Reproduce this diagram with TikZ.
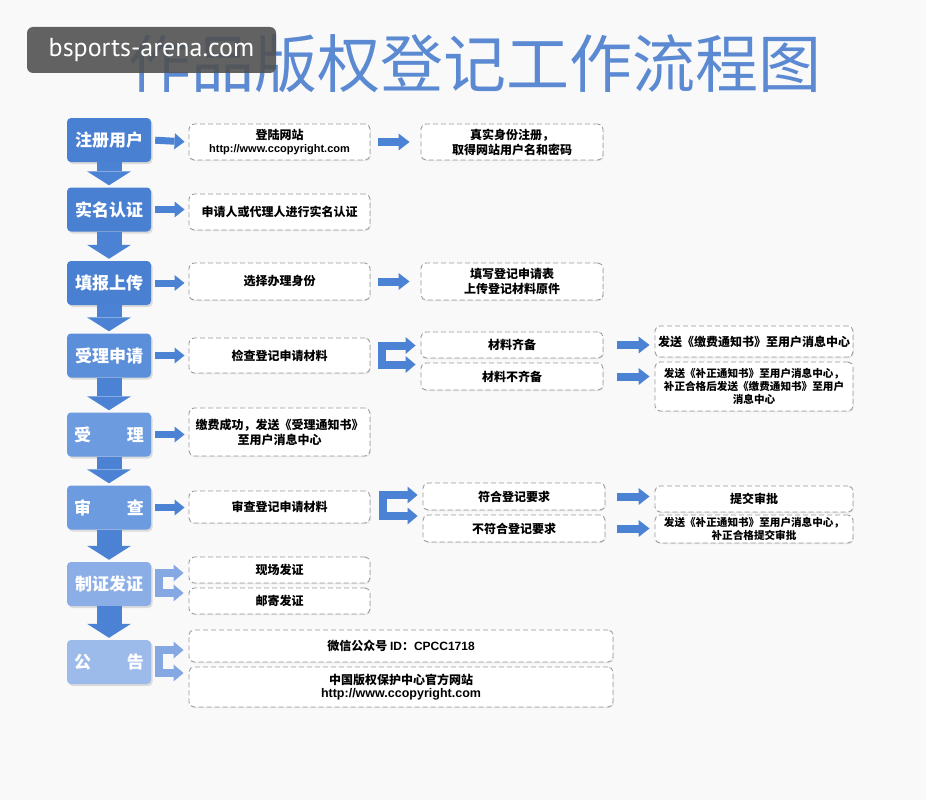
\documentclass[tikz,border=0pt]{standalone}
\usepackage{fontspec}
\setmainfont{Noto Sans CJK SC}
\newfontfamily\latinb{Liberation Sans}
\newfontfamily\wmfont{PT Sans}
\usetikzlibrary{arrows.meta,shadows,calc}
\definecolor{bg}{HTML}{F9F9F9}
\definecolor{titleblue}{HTML}{5C8AD2}
\definecolor{arrowblue}{HTML}{4C82D4}
\definecolor{arrowlight}{HTML}{86A8E2}
\definecolor{dashgray}{HTML}{9A9A9A}
\definecolor{lb1}{HTML}{4A80D2}
\definecolor{lb2}{HTML}{5B8FDA}
\definecolor{lb3}{HTML}{6C9BE0}
\definecolor{lb4}{HTML}{8CAEE6}
\definecolor{lb5}{HTML}{9DBBEA}
\tikzset{
  lbox/.style={fill=#1, rounded corners=4pt, minimum width=84pt, minimum height=44pt, inner sep=0pt,
    text=white, font=\bfseries\fontsize{17}{17}\selectfont,
    drop shadow={shadow xshift=1.5pt, shadow yshift=-2pt, fill=black!22, opacity=0.6}},
  dbox/.style={draw=dashgray, dash pattern=on 5pt off 3pt, line width=0.9pt, fill=white,
    rounded corners=5pt, inner sep=2pt, align=center, font=\bfseries\fontsize{12}{15}\selectfont,
    drop shadow={shadow xshift=0.8pt, shadow yshift=-1.2pt, fill=black!12, opacity=0.7}},
  downar/.style={draw=arrowblue, line width=25pt, -{Triangle[width=44pt,length=14pt,line width=0pt]}, shorten >=2pt},
  rar/.style={draw=#1, line width=7pt, -{Triangle[width=16pt,length=10pt,line width=0pt]}, shorten <=4pt, shorten >=4pt},
  rar/.default=arrowblue,
  mar/.style={draw=arrowblue, line width=8pt, -{Triangle[width=17pt,length=11pt,line width=0pt]}},
  splitar/.style={draw=#1, line width=8pt, line join=miter,
    {Triangle[width=17pt,length=10pt,line width=0pt]}-{Triangle[width=17pt,length=10pt,line width=0pt]}},
  splitar/.default=arrowblue
}
\newcommand\splitarrow[6]{%
  \draw[splitar=#6] ($(#2.west |- #1.east)+(-5,-#4)$) -- ($(#1.east)+(#3,-#4)$)
     -- ($(#1.east)+(#3,#5)$) -- ($(#2.west |- #1.east)+(-5,#5)$);}
\begin{document}
\begin{tikzpicture}[x=1pt,y=-1pt]
\fill[bg] (0,0) rectangle (926,800);
\useasboundingbox (0,0) rectangle (926,800);

% title
\node (title) [text=titleblue, font=\fontsize{63}{63}\selectfont, inner sep=0pt] at (475,64) {作品版权登记工作流程图};

% left column
\node (u1) [lbox=lb1] at (109,140) {注册用户};
\node (u2) [lbox=lb1] at (109,209.5) {实名认证};
\node (u3) [lbox=lb1] at (109,283) {填报上传};
\node (u4) [lbox=lb2] at (109,355.5) {受理申请};
\node (u5) [lbox=lb3] at (109,434.5) {受\hspace{2.1em}理};
\node (u6) [lbox=lb3] at (109,507.5) {审\hspace{2.1em}查};
\node (u7) [lbox=lb4] at (109,584) {制证发证};
\node (u8) [lbox=lb5] at (109,662) {公\hspace{2.1em}告};

% down arrows
\draw[downar] (u1.south) -- (u2.north);
\draw[downar] (u2.south) -- (u3.north);
\draw[downar] (u3.south) -- (u4.north);
\draw[downar] (u4.south) -- (u5.north);
\draw[downar] (u5.south) -- (u6.north);
\draw[downar] (u6.south) -- (u7.north);
\draw[downar] (u7.south) -- (u8.north);

% dashed boxes
\node (a1) [dbox, minimum width=181pt, minimum height=36pt] at (279.5,142) {登陆网站\\[-2pt]{\latinb\bfseries\fontsize{11}{13}\selectfont http://www.ccopyright.com}};
\node (b1) [dbox, minimum width=182pt, minimum height=36pt] at (512,142) {真实身份注册，\\取得网站用户名和密码};
\node (a2) [dbox, minimum width=181pt, minimum height=36pt] at (279.5,212) {申请人或代理人进行实名认证};
\node (a3) [dbox, minimum width=181pt, minimum height=37pt] at (279.5,281.5) {选择办理身份};
\node (b3) [dbox, minimum width=182pt, minimum height=37pt] at (512,281.5) {填写登记申请表\\上传登记材料原件};
\node (a4) [dbox, minimum width=181pt, minimum height=35pt] at (279.5,355.5) {检查登记申请材料};
\node (d4a) [dbox, minimum width=182pt, minimum height=26pt] at (512,345) {材料齐备};
\node (d4b) [dbox, minimum width=182pt, minimum height=27pt] at (512,376.5) {材料不齐备};
\node (e4a) [dbox, minimum width=198pt, minimum height=31pt] at (754,341.5) {发送《缴费通知书》至用户消息中心};
\node (e4b) [dbox, minimum width=198pt, minimum height=49pt, font=\bfseries\fontsize{10.6}{13}\selectfont] at (754,386.5) {发送《补正通知书》至用户消息中心，\\补正合格后发送《缴费通知书》至用户\\消息中心};
\node (a5) [dbox, minimum width=181pt, minimum height=48pt] at (279.5,432) {缴费成功，发送《受理通知书》\\至用户消息中心};
\node (a6) [dbox, minimum width=181pt, minimum height=32pt] at (279.5,507) {审查登记申请材料};
\node (d6a) [dbox, minimum width=182pt, minimum height=27pt] at (514,496.5) {符合登记要求};
\node (d6b) [dbox, minimum width=182pt, minimum height=27pt] at (514,528.5) {不符合登记要求};
\node (e6a) [dbox, minimum width=198pt, minimum height=26pt] at (754,499) {提交审批};
\node (e6b) [dbox, minimum width=198pt, minimum height=28pt, font=\bfseries\fontsize{10.6}{13}\selectfont] at (754,529) {发送《补正通知书》至用户消息中心，\\补正合格提交审批};
\node (a7a) [dbox, minimum width=181pt, minimum height=26pt] at (279.5,570) {现场发证};
\node (a7b) [dbox, minimum width=181pt, minimum height=26pt] at (279.5,601) {邮寄发证};
\node (a8a) [dbox, minimum width=424pt, minimum height=32pt] at (401,646) {微信公众号 {\latinb\bfseries ID}：{\latinb\bfseries CPCC1718}};
\node (a8b) [dbox, minimum width=424pt, minimum height=40pt] at (401,687) {中国版权保护中心官方网站\\[-2pt]{\latinb\bfseries\fontsize{12.5}{14}\selectfont http://www.ccopyright.com}};

% right arrows from left column
\draw[rar] (u1.east) -- (a1.west);
\draw[rar] (u2.east) -- (a2.west |- u2.east);
\draw[rar] (u3.east) -- (a3.west |- u3.east);
\draw[rar] (u4.east) -- (a4.west |- u4.east);
\draw[rar] (u5.east) -- (a5.west |- u5.east);
\draw[rar] (u6.east) -- (a6.west |- u6.east);

% middle arrows
\draw[mar, shorten <=8pt, shorten >=11pt] (a1.east) -- (b1.west);
\draw[mar, shorten <=8pt, shorten >=11pt] (a3.east) -- (b3.west);

% split arrows
\splitarrow{a4}{d4a}{12}{10}{9}{arrowblue}
\splitarrow{a6}{d6a}{13}{12}{9}{arrowblue}
\splitarrow{u7}{a7a}{7.5}{11}{9}{arrowlight}
\splitarrow{u8}{a8a}{7.5}{12}{11}{arrowlight}

% right column arrows
\draw[mar, shorten <=14pt, shorten >=5pt] (d4a.east) -- (d4a.east -| e4a.west);
\draw[mar, shorten <=14pt, shorten >=5pt] (d4b.east) -- (d4b.east -| e4b.west);
\draw[mar, shorten <=12pt, shorten >=5pt] (d6a.east) -- (d6a.east -| e6a.west);
\draw[mar, shorten <=12pt, shorten >=5pt] (d6b.east) -- (d6b.east -| e6b.west);

% watermark
\node (wm) [fill=black!68, fill opacity=0.9, text opacity=1, text=white, rounded corners=6pt,
  minimum width=249pt, minimum height=46pt, inner sep=0pt, font=\wmfont\fontsize{26}{26}\selectfont]
  at (151.5,50) {bsports-arena.com};
\end{tikzpicture}
\end{document}
